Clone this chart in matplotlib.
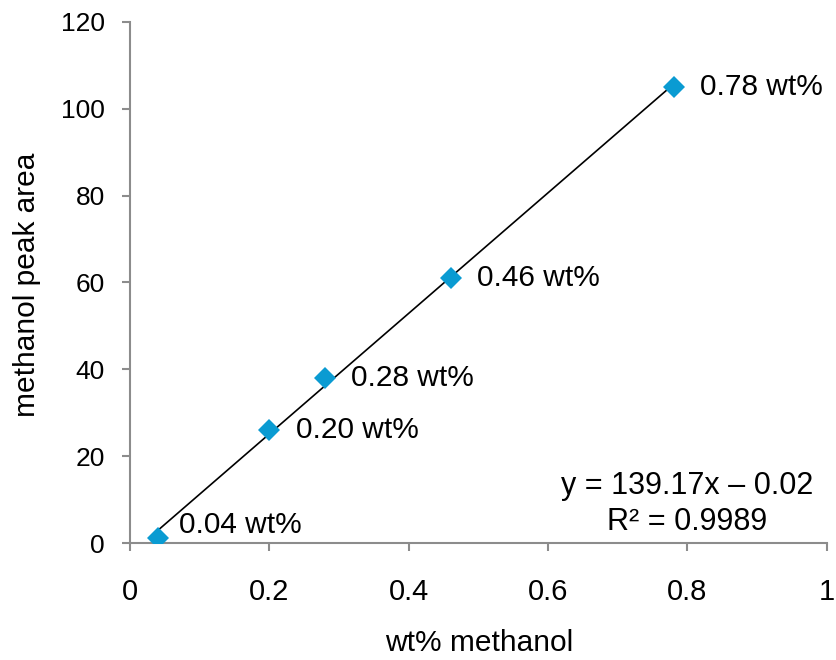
import matplotlib
matplotlib.use("Agg")
import matplotlib.pyplot as plt
import numpy as np

plt.rcParams['font.family'] = ['Liberation Sans', 'DejaVu Sans']

wt = [0.04, 0.20, 0.28, 0.46, 0.78]
area = [1.2, 26.0, 38.0, 61.0, 105.0]
point_labels = ['0.04 wt%', '0.20 wt%', '0.28 wt%', '0.46 wt%', '0.78 wt%']
eq_line1 = 'y = 139.17x – 0.02'
eq_line2 = 'R² = 0.9989'

fig = plt.figure(figsize=(8.36, 6.6), dpi=100)
ax = fig.add_axes([0.1555, 0.177, 0.8335, 0.79])

# linear trendline fitted to the points
coef = np.polyfit(wt, area, 1)
xs = np.array([min(wt), max(wt)])
ax.plot(xs, np.polyval(coef, xs), color='black', lw=1.2, zorder=2)
ax.plot(wt, area, linestyle='none', marker='D', color='#0A9BD2', markersize=11.5,
        markeredgewidth=0, zorder=3)

offsets = [(15, 9), (19, 0), (19, 0), (19, 0), (19, 0)]
for x, y, lab, off in zip(wt, area, point_labels, offsets):
    ax.annotate(lab, (x, y), xytext=off, textcoords='offset points',
                ha='left', va='center', fontsize=21.5)

ax.text(0.8, 13.2, eq_line1, ha='center', va='center', fontsize=22)
ax.text(0.8, 4.9, eq_line2, ha='center', va='center', fontsize=22)

ax.set_xlim(0, 1)
ax.set_ylim(0, 120)
ax.set_xticks([0, 0.2, 0.4, 0.6, 0.8, 1])
ax.set_xticklabels(['0', '0.2', '0.4', '0.6', '0.8', '1'])
ax.set_yticks(range(0, 121, 20))
for s in ['top', 'right']:
    ax.spines[s].set_visible(False)
for s in ['left', 'bottom']:
    ax.spines[s].set_color('#8c8c8c')
    ax.spines[s].set_linewidth(1.5)
ax.tick_params(axis='both', direction='out', length=6, width=1.5, color='#8c8c8c')
ax.tick_params(axis='x', pad=19, labelsize=21)
ax.tick_params(axis='y', pad=12, labelsize=19)

ax.set_xlabel('wt% methanol', fontsize=21.5)
ax.xaxis.label.set_va('baseline')
ax.xaxis.set_label_coords(0.5007, -0.207)
ax.set_ylabel('methanol peak area', fontsize=21.5)
ax.yaxis.label.set_va('baseline')
ax.yaxis.set_label_coords(-0.136, 0.495)

fig.savefig('out.png', dpi=100)
